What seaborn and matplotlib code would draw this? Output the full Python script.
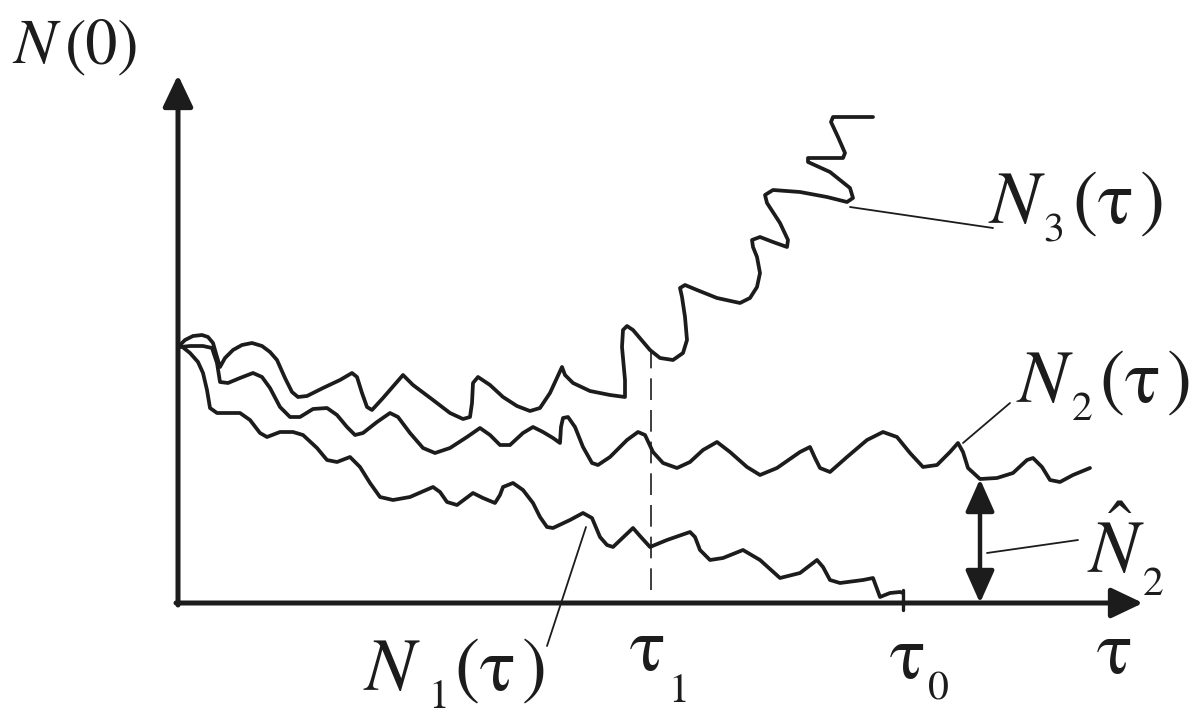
import numpy as np
import pandas as pd
import seaborn as sns
import matplotlib.pyplot as plt

sns.set_theme(style='white')
plt.rcParams['mathtext.fontset'] = 'stix'
plt.rcParams['font.family'] = ['STIXGeneral', 'Liberation Serif', 'DejaVu Sans']

INK = '#1c1c1c'

# curves (t along the time axis, N up the vertical axis)
n3_t = [2, 7, 15, 24, 30, 35, 39, 42, 47, 55, 64, 74, 84, 92, 99, 107, 114, 120, 129, 145,
        162, 174, 179, 184, 189, 194, 205, 225, 235, 255, 272, 285, 292, 294, 295, 300, 312, 325, 339, 352,
        362, 372, 384, 387, 395, 412, 432, 447, 447, 444, 445, 449, 455, 472, 482, 495, 505, 509, 507,
        504, 502, 507, 519, 539, 562, 572, 579, 582, 579, 575, 574, 582, 595, 609, 610, 602, 589, 587,
        595, 622, 649, 669, 675, 672, 652, 630, 630, 649, 665, 667, 660, 653, 655, 672, 695]
n3_v = [258, 263, 267, 268, 266, 260, 246, 236, 245, 253, 258, 260, 257, 251, 243, 225, 211, 206, 207, 215,
        223, 230, 226, 210, 196, 193, 205, 228, 218, 203, 190, 184, 186, 200, 220, 226, 218, 206, 197, 192,
        195, 210, 236, 228, 220, 212, 208, 206, 223, 256, 273, 277, 273, 253, 245, 243, 250, 263, 286,
        306, 315, 318, 313, 305, 300, 305, 316, 330, 346, 356, 363, 366, 361, 356, 363, 380, 400, 408,
        413, 411, 406, 401, 405, 415, 431, 441, 445, 445, 445, 450, 466, 481, 486, 486, 486]

n2_t = [2, 12, 25, 34, 39, 42, 50, 62, 75, 84, 92, 102, 112, 122, 135, 149, 159, 169, 177, 185,
        199, 212, 220, 232, 245, 257, 272, 289, 302, 312, 322, 332, 345, 355, 365, 375, 382, 383, 385, 390,
        397, 405, 414, 420, 432, 449, 460, 467, 475, 485, 499, 512, 525, 539, 552, 569, 582, 599, 622,
        632, 637, 642, 652, 669, 689, 705, 719, 732, 745, 759, 772, 780, 785, 790, 802, 819, 835, 849,
        855, 864, 872, 882, 895, 912]
n2_v = [256, 257, 257, 255, 240, 221, 220, 225, 230, 226, 215, 196, 186, 186, 194, 195, 188, 176, 168, 170,
        181, 190, 186, 170, 155, 150, 155, 166, 175, 168, 158, 158, 170, 176, 171, 165, 160, 176, 185, 186,
        176, 156, 140, 138, 146, 163, 171, 168, 151, 140, 135, 141, 153, 161, 151, 136, 128, 135, 151,
        156, 145, 135, 131, 146, 163, 171, 166, 150, 136, 138, 151, 160, 151, 135, 124, 125, 130, 143,
        145, 136, 123, 121, 128, 135]

n1_t = [2, 12, 20, 25, 29, 32, 39, 62, 72, 82, 89, 102, 115, 125, 139, 149, 159, 172, 182, 192,
        202, 215, 232, 255, 262, 269, 279, 295, 305, 317, 322, 325, 335, 345, 355, 362, 369, 375, 392, 405,
        414, 422, 429, 435, 455, 462, 472, 489, 512, 517, 522, 532, 545, 565, 582, 602, 622, 639, 645,
        652, 662, 685, 695, 702, 712, 722, 725]
n1_v = [258, 250, 241, 230, 213, 195, 190, 190, 183, 170, 166, 171, 171, 168, 155, 143, 141, 146, 136, 120,
        106, 103, 106, 116, 111, 101, 98, 110, 105, 100, 108, 116, 120, 113, 100, 86, 76, 75, 83, 90,
        85, 66, 58, 56, 75, 67, 56, 63, 71, 66, 53, 43, 45, 53, 43, 25, 30, 43, 36,
        23, 20, 23, 25, 6, 10, 11, 10]

tau1, tau0 = 473, 725
n2_hat = 124
t_max, n_max = 965, 528

curves = pd.concat([
    pd.DataFrame({'t': n1_t, 'N': n1_v, 'curve': 'N1'}),
    pd.DataFrame({'t': n2_t, 'N': n2_v, 'curve': 'N2'}),
    pd.DataFrame({'t': n3_t, 'N': n3_v, 'curve': 'N3'}),
])

fig = plt.figure(figsize=(11.95, 7.22), dpi=100)
ax = fig.add_axes([0, 0, 1, 1])

for name, g in curves.groupby('curve'):
    sns.lineplot(data=g, x='t', y='N', sort=False, estimator=None, color=INK, lw=2.7,
                 solid_joinstyle='round', solid_capstyle='round', ax=ax, legend=False)

# axes with arrow heads
arrow = dict(arrowstyle='-|>,head_length=0.42,head_width=0.2', lw=3.6, color=INK,
             mutation_scale=46, shrinkA=0, shrinkB=0)
ax.annotate('', xy=(t_max, 0), xytext=(-2, 0), arrowprops=arrow)
ax.annotate('', xy=(0, n_max), xytext=(0, -2), arrowprops=arrow)

# tau1 dashed guide, tau0 tick, N2 hat double arrow
ax.plot([tau1, tau1], [13, 253], color=INK, lw=1.2, dashes=(13, 6))
ax.plot([tau0, tau0], [13, -7], color=INK, lw=2.4)
ax.annotate('', xy=(802, n2_hat), xytext=(802, 0),
            arrowprops=dict(arrowstyle='<|-|>,head_length=0.45,head_width=0.2', lw=3.2, color=INK,
                            mutation_scale=44, shrinkA=0, shrinkB=0))

# leader lines
for (x0, y0), (x1, y1) in [((672, 396), (815, 375)), ((785, 160), (832, 200)),
                           ((809, 50), (900, 63)), ((408, 76), (369, -43))]:
    ax.plot([x0, x1], [y0, y1], color=INK, lw=1.3)


def put(x, y, s, size=54, italic=False):
    ax.text(x, y, s, fontsize=size, color=INK, ha='left', va='baseline',
            style='italic' if italic else 'normal')


big, small = 54, 30
# N(0)
put(-165, 540, 'N', 46, italic=True)
put(-113, 540, '(0)', 46)
# N3(tau)
put(812, 380, 'N', big, italic=True)
put(865, 361, '3', small)
put(895, 380, '(τ\u200a)', big)
# N2(tau)
put(840, 201, 'N', big, italic=True)
put(894, 183, '2', small)
put(922, 201, '(τ\u200a)', big)
# N2 hat
put(909, 30, r'$\hat{N}$', big)
put(965, 8, '2', small)
# N1(tau)
put(187, -87, 'N', big, italic=True)
put(250, -105, '1', small)
put(277, -87, '(τ\u200a)', big)
# time marks
put(452, -67, 'τ', big)
put(490, -99, '1', small)
put(712, -75, 'τ', big)
put(750, -97, '0', small)
put(919, -70, 'τ', big)

ax.set_xlim(-178, 1017)
ax.set_ylim(-119, 603)
ax.axis('off')

fig.savefig('out.png', dpi=100)
